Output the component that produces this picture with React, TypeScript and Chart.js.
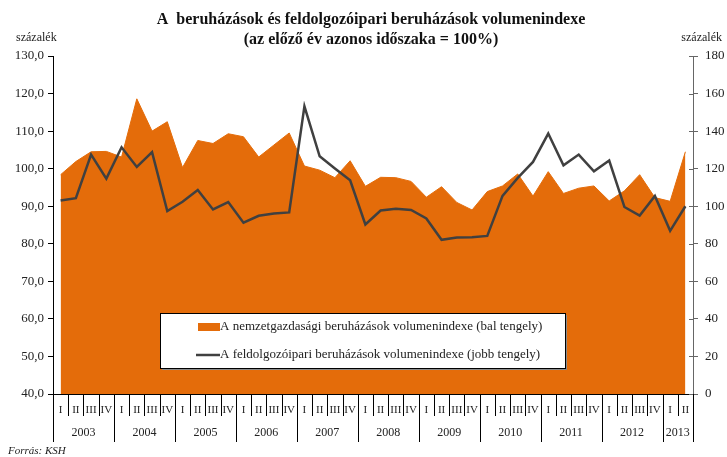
import React, { useEffect, useRef } from 'react';
import { Chart, registerables } from 'chart.js';
Chart.register(...registerables);

const years = ['2003', '2004', '2005', '2006', '2007', '2008', '2009', '2010', '2011', '2012', '2013'];
const quarterNames = ['I', 'II', 'III', 'IV'];
const quartersPerYear = [4, 4, 4, 4, 4, 4, 4, 4, 4, 4, 2];

const categories: string[] = [];
years.forEach((y, yi) => {
  for (let q = 0; q < quartersPerYear[yi]; q++) categories.push(y + ' ' + quarterNames[q]);
});

// Nemzetgazdasági beruházások volumenindexe (bal tengely)
const investmentIndex = [
  98.4, 101.9, 104.5, 104.6,
  103.1, 118.6, 110.0, 112.5,
  100.3, 107.5, 106.7, 109.3,
  108.5, 103.1, 106.3, 109.5,
  100.7, 99.6, 97.6, 102.1,
  95.3, 97.7, 97.6, 96.6,
  92.4, 95.2, 91.0, 89.0,
  93.9, 95.4, 98.6, 92.7,
  99.2, 93.4, 94.8, 95.4,
  91.4, 94.1, 98.4, 92.3,
  91.3, 104.5,
];

// Feldolgozóipari beruházások volumenindexe (jobb tengely)
const manufacturingIndex = [
  103.0, 104.3, 127.5, 114.7,
  131.4, 120.9, 128.8, 97.4,
  102.4, 108.6, 98.3, 102.2,
  91.2, 94.9, 96.1, 96.7,
  153.2, 126.6, 120.1, 113.8,
  90.3, 97.7, 98.6, 98.0,
  93.5, 82.1, 83.4, 83.5,
  84.2, 105.5, 115.1, 123.6,
  138.7, 121.8, 127.5, 118.6,
  124.3, 99.6, 95.0, 105.5,
  86.9, 100.0,
];

const leftAxis = { min: 40, max: 130, step: 10 };
const rightAxis = { min: 0, max: 180, step: 20 };

const titleLines = [
  'A  beruházások és feldolgozóipari beruházások volumenindexe',
  '(az előző év azonos időszaka = 100%)',
];
const seriesLabels = [
  'A nemzetgazdasági beruházások volumenindexe (bal tengely)',
  'A feldolgozóipari beruházások volumenindexe (jobb tengely)',
];
const unitLabel = 'százalék';
const sourceLabel = 'Forrás: KSH';

const ORANGE = '#E46C0A';
const LINE = '#404040';
const TEXT = '#222222';
const FONT = '"Liberation Serif", serif';

const decorPlugin = {
  id: 'decor',
  afterDraw(chart: any) {
    const ctx = chart.ctx as CanvasRenderingContext2D;
    const x = chart.scales.x;
    const y1 = chart.scales.y1;
    const area = chart.chartArea;
    ctx.save();
    ctx.fillStyle = '#111';

    // Title
    ctx.font = 'bold 16px ' + FONT;
    ctx.textAlign = 'center';
    ctx.textBaseline = 'middle';
    const cx = (area.left + area.right) / 2 - 2;
    ctx.fillText(titleLines[0], cx, 20);
    ctx.fillText(titleLines[1], cx, 40);

    ctx.fillStyle = TEXT;
    // Unit labels
    ctx.font = '12px ' + FONT;
    ctx.textAlign = 'left';
    ctx.fillText(unitLabel, 16, 38);
    ctx.textAlign = 'right';
    ctx.fillText(unitLabel, 722, 38);

    // Source
    ctx.font = 'italic 11px ' + FONT;
    ctx.textAlign = 'left';
    ctx.fillText(sourceLabel, 8, 451);

    // Right axis inner ticks
    ctx.strokeStyle = '#666';
    ctx.lineWidth = 1;
    for (let v = rightAxis.min; v <= rightAxis.max; v += rightAxis.step) {
      const py = Math.round(y1.getPixelForValue(v)) + 0.5;
      ctx.beginPath();
      ctx.moveTo(area.right - 4, py);
      ctx.lineTo(area.right, py);
      ctx.stroke();
    }

    // X axis: quarters, separators, years
    const p0 = x.getPixelForValue(0);
    const p1 = x.getPixelForValue(1);
    const half = (p1 - p0) / 2;
    const base = area.bottom;
    ctx.strokeStyle = '#000';
    ctx.font = '11px ' + FONT;
    ctx.textAlign = 'center';
    let idx = 0;
    years.forEach((yr, yi) => {
      const startX = x.getPixelForValue(idx) - half;
      for (let q = 0; q < quartersPerYear[yi]; q++) {
        const c = x.getPixelForValue(idx);
        ctx.fillText(quarterNames[q], c, 410);
        const lx = Math.round(c - half) + 0.5;
        ctx.beginPath();
        ctx.moveTo(lx, base);
        ctx.lineTo(lx, q === 0 ? 442 : 416);
        ctx.stroke();
        idx++;
      }
      const endX = x.getPixelForValue(idx - 1) + half;
      ctx.font = '12px ' + FONT;
      ctx.fillText(yr, (startX + endX) / 2, 433);
      ctx.font = '11px ' + FONT;
      if (yi === years.length - 1) {
        const lx = Math.round(endX) + 0.5;
        ctx.beginPath();
        ctx.moveTo(lx, base);
        ctx.lineTo(lx, 442);
        ctx.stroke();
      }
    });

    // Legend box
    const bx = 160, by = 313, bw = 405, bh = 55;
    ctx.fillStyle = '#8a8a8a';
    ctx.fillRect(bx + 2, by + 2, bw, bh);
    ctx.fillStyle = '#fff';
    ctx.fillRect(bx, by, bw, bh);
    ctx.strokeStyle = '#000';
    ctx.lineWidth = 1;
    ctx.strokeRect(bx + 0.5, by + 0.5, bw, bh);

    ctx.fillStyle = ORANGE;
    ctx.fillRect(198, 323, 22, 8);
    ctx.strokeStyle = LINE;
    ctx.lineWidth = 2.5;
    ctx.beginPath();
    ctx.moveTo(196, 355);
    ctx.lineTo(220, 355);
    ctx.stroke();

    ctx.fillStyle = TEXT;
    ctx.font = '13px ' + FONT;
    ctx.textAlign = 'left';
    ctx.fillText(seriesLabels[0], 220, 327);
    ctx.fillText(seriesLabels[1], 220, 355);

    ctx.restore();
  },
};

export default function App() {
  const ref = useRef<HTMLCanvasElement>(null);
  useEffect(() => {
    if (!ref.current) return;
    const chart = new Chart(ref.current, {
      type: 'line',
      data: {
        labels: categories,
        datasets: [
          {
            label: seriesLabels[0],
            data: investmentIndex,
            yAxisID: 'y',
            fill: 'start',
            backgroundColor: ORANGE,
            borderColor: ORANGE,
            borderWidth: 1,
            pointRadius: 0,
            tension: 0,
            order: 2,
          },
          {
            label: seriesLabels[1],
            data: manufacturingIndex,
            yAxisID: 'y1',
            fill: false,
            borderColor: LINE,
            borderWidth: 2.5,
            pointRadius: 0,
            tension: 0,
            order: 1,
          },
        ],
      },
      options: {
        responsive: false,
        animation: false,
        layout: { padding: { top: 56, left: 0, right: 0, bottom: 0 } },
        plugins: {
          legend: { display: false },
          title: { display: false },
          tooltip: { enabled: false },
        },
        scales: {
          x: {
            type: 'category',
            offset: true,
            grid: { display: false },
            border: { display: true, color: '#000', width: 1 },
            ticks: { display: false },
            afterFit: (s: any) => { s.height = 63; },
          },
          y: {
            position: 'left',
            min: leftAxis.min,
            max: leftAxis.max,
            ticks: {
              stepSize: leftAxis.step,
              color: TEXT,
              padding: 4,
              font: { family: FONT, size: 13 },
              callback: (v: any) => Number(v).toFixed(1).replace('.', ','),
            },
            grid: { drawOnChartArea: false, tickLength: 5, color: '#000' },
            border: { display: true, color: '#000', width: 1 },
            afterFit: (s: any) => { s.width = 53; },
          },
          y1: {
            position: 'right',
            min: rightAxis.min,
            max: rightAxis.max,
            ticks: {
              stepSize: rightAxis.step,
              color: TEXT,
              padding: 7,
              font: { family: FONT, size: 13 },
            },
            grid: { drawOnChartArea: false, tickLength: 5, color: '#666' },
            border: { display: true, color: '#666', width: 1 },
            afterFit: (s: any) => { s.width = 34; },
          },
        },
      },
      plugins: [decorPlugin],
    });
    return () => chart.destroy();
  }, []);
  return (
    <div style={{ position: 'absolute', left: 0, top: 0, width: 727, height: 457, background: '#fff' }}>
      <canvas ref={ref} width={727} height={457} style={{ display: 'block' }} />
    </div>
  );
}
